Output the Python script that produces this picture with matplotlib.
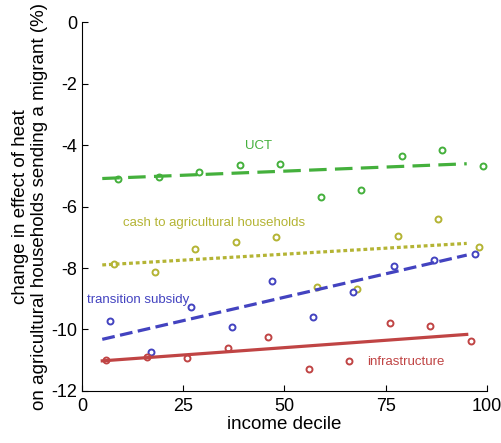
import matplotlib.pyplot as plt
import numpy as np

plt.rcParams['font.family'] = ['Liberation Sans', 'DejaVu Sans']
plt.rcParams['axes.unicode_minus'] = False

# scatter points per policy (income decile midpoints, effect in %)
uct_x = [9, 19, 29, 39, 49, 59, 69, 79, 89, 99]
uct_y = [-5.12, -5.03, -4.87, -4.65, -4.61, -5.68, -5.45, -4.35, -4.16, -4.69]

cash_x = [8, 18, 28, 38, 48, 58, 68, 78, 88, 98]
cash_y = [-7.87, -8.12, -7.38, -7.15, -6.99, -8.61, -8.69, -6.96, -6.40, -7.31]

trans_x = [7, 17, 27, 37, 47, 57, 67, 77, 87, 97]
trans_y = [-9.71, -10.72, -9.28, -9.93, -8.41, -9.60, -8.77, -7.93, -7.74, -7.54]

infra_x = [6, 16, 26, 36, 46, 56, 66, 76, 86, 96]
infra_y = [-10.99, -10.91, -10.94, -10.59, -10.25, -11.30, -11.01, -9.80, -9.88, -10.36]

# fitted trend lines (end points)
fit_x = [5, 95]
uct_fit = [-5.09, -4.61]
cash_fit = [-7.90, -7.20]
trans_fit = [-10.32, -7.58]
infra_fit = [-11.02, -10.16]

green = '#44b03c'
olive = '#b4b434'
blue = '#4343c0'
red = '#c04444'

fig = plt.figure(figsize=(5.01, 4.43), dpi=100)
ax = fig.add_axes([0.1637, 0.1174, 0.8083, 0.8329])

mk = dict(marker='o', ms=4.3, mfc='white', mew=1.4, ls='none')
ax.plot(uct_x, uct_y, color=green, **mk)
ax.plot(cash_x, cash_y, color=olive, **mk)
ax.plot(trans_x, trans_y, color=blue, **mk)
ax.plot(infra_x, infra_y, color=red, **mk)

ax.plot(fit_x, uct_fit, color=green, lw=2.3, dashes=(5.5, 2.6))
ax.plot(fit_x, cash_fit, color=olive, lw=2.3, dashes=(1.2, 0.9))
ax.plot(fit_x, trans_fit, color=blue, lw=2.3, dashes=(4, 1.7))
ax.plot(fit_x, infra_fit, color=red, lw=2.3)

ax.text(43.7, -4.03, 'UCT', color=green, fontsize=9.5, ha='center', va='center')
ax.text(10.2, -6.55, 'cash to agricultural households', color=olive, fontsize=9.5, va='center')
ax.text(1.3, -9.04, 'transition subsidy', color=blue, fontsize=9.5, va='center')
ax.text(70.3, -11.05, 'infrastructure', color=red, fontsize=9.5, va='center')

ax.set_xlim(0, 100)
ax.set_ylim(-12, 0)
ax.set_xticks([0, 25, 50, 75, 100])
ax.set_yticks(np.arange(-12, 1, 2))
ax.tick_params(direction='in', labelsize=13, length=4)
ax.tick_params(axis='x', pad=5)
ax.spines['top'].set_visible(False)
ax.spines['right'].set_visible(False)
ax.set_xlabel('income decile', fontsize=13.5, labelpad=1)
ax.set_ylabel('change in effect of heat\non agricultural households sending a migrant (%)',
              fontsize=13.5, labelpad=2)

fig.savefig('out.png', dpi=100)
